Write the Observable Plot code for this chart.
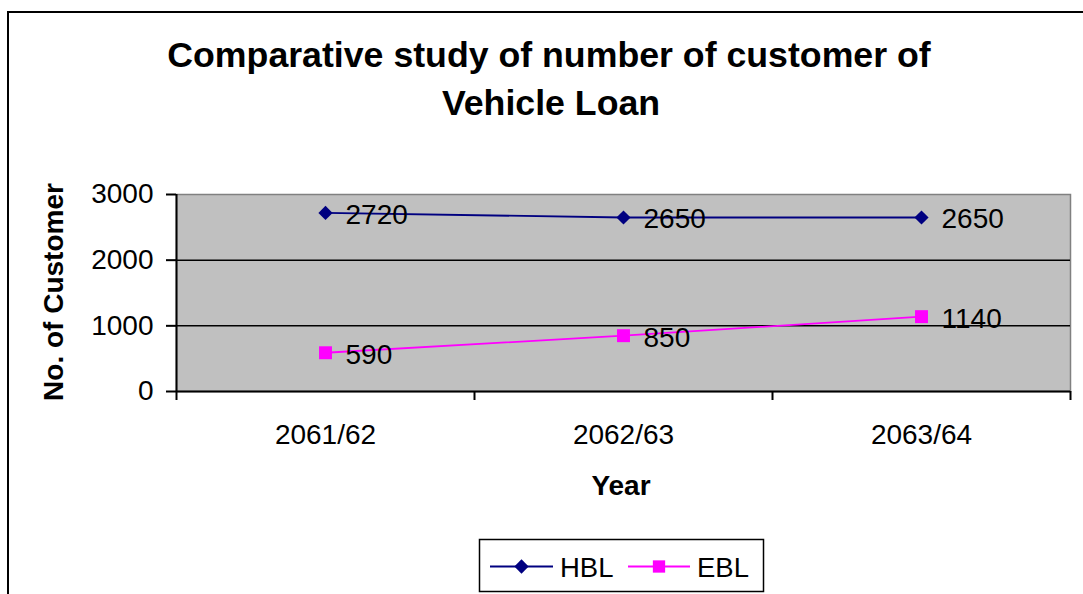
<!DOCTYPE html>
<html>
<head>
<meta charset="utf-8">
<script src="https://cdn.jsdelivr.net/npm/d3@7"></script>
<script src="https://cdn.jsdelivr.net/npm/@observablehq/plot@0.6"></script>
<style>
  html, body { margin: 0; padding: 0; background: #fff; }
  #wrap { position: relative; width: 1083px; height: 594px; overflow: hidden; font-family: "Liberation Sans", Arial, sans-serif; }
  #border { position: absolute; left: 7px; top: 11px; width: 3000px; height: 3000px; border-left: 2px solid #000; border-top: 2px solid #000; pointer-events: none; }
</style>
</head>
<body>
<div id="wrap"><div id="border"></div></div>
<script>
const years = ["2061/62", "2062/63", "2063/64"];
const hblValues = [2720, 2650, 2650];
const eblValues = [590, 850, 1140];
const yTicks = [0, 1000, 2000, 3000];
const gridValues = [1000, 2000];
const titleLines = ["Comparative study of number of customer of", "Vehicle Loan"];
const yLabel = "No. of Customer";
const xLabel = "Year";
const seriesNames = ["HBL", "EBL"];
const seriesColors = ["#000080", "#FF00FF"];
const seriesSymbols = ["diamond2", "square"];

const hbl = years.map((year, i) => ({pos: i + 0.5, year, value: hblValues[i]}));
const ebl = years.map((year, i) => ({pos: i + 0.5, year, value: eblValues[i]}));
const boundaries = d3.range(years.length + 1);
const centers = years.map((_, i) => i + 0.5);

const font = '"Liberation Sans", Arial, sans-serif';

const chart = Plot.plot({
  width: 1083,
  height: 594,
  marginLeft: 176,
  marginRight: 13,
  marginTop: 194,
  marginBottom: 203,
  style: {fontFamily: font, fontSize: "28px", background: "transparent", overflow: "visible"},
  x: {type: "linear", domain: [0, years.length]},
  y: {domain: [0, 3000]},
  marks: [
    Plot.frame({fill: "#C0C0C0", stroke: "#808080", strokeWidth: 1.5}),
    Plot.ruleY(gridValues, {stroke: "#000", strokeWidth: 1.5}),
    Plot.axisY({ticks: yTicks, tickSize: 10, tickPadding: 13, tickFormat: d => String(d), strokeWidth: 2, fontSize: 28, label: null, fill: "#000"}),
    Plot.axisX({ticks: boundaries, tickSize: 9, tickFormat: () => "", strokeWidth: 2, label: null}),
    Plot.axisX({ticks: centers, tickSize: 0, tickPadding: 33, tickFormat: d => years[Math.floor(d)], fontSize: 28, label: null, fill: "#000"}),
    Plot.ruleY([0], {stroke: "#000", strokeWidth: 2}),
    Plot.ruleX([0], {stroke: "#000", strokeWidth: 2}),
    Plot.line(hbl, {x: "pos", y: "value", stroke: seriesColors[0], strokeWidth: 1.8}),
    Plot.line(ebl, {x: "pos", y: "value", stroke: seriesColors[1], strokeWidth: 1.8}),
    Plot.dot(hbl, {x: "pos", y: "value", symbol: () => seriesSymbols[0], r: 6.4, fill: seriesColors[0], stroke: "none"}),
    Plot.dot(ebl, {x: "pos", y: "value", symbol: () => seriesSymbols[1], r: 7.3, fill: seriesColors[1], stroke: "none"}),
    Plot.text(hbl, {x: "pos", y: "value", text: d => String(d.value), dx: 20, dy: 2, textAnchor: "start", fontSize: 28, fill: "#000"}),
    Plot.text(ebl, {x: "pos", y: "value", text: d => String(d.value), dx: 20, dy: 2, textAnchor: "start", fontSize: 28, fill: "#000"})
  ]
});
chart.style.position = "absolute";
chart.style.left = "0px";
chart.style.top = "0px";
document.getElementById("wrap").appendChild(chart);

const svg = d3.select(chart);
// Title
const title = svg.append("text")
  .attr("text-anchor", "middle")
  .attr("font-family", font)
  .attr("font-weight", "bold")
  .attr("font-size", 35.7)
  .attr("fill", "#000");
title.append("tspan").attr("x", 549).attr("y", 67).text(titleLines[0]);
title.append("tspan").attr("x", 551).attr("y", 115).text(titleLines[1]);

// Axis titles
svg.append("text")
  .attr("transform", "translate(63,292) rotate(-90)")
  .attr("text-anchor", "middle")
  .attr("font-family", font).attr("font-weight", "bold").attr("font-size", 28)
  .attr("fill", "#000")
  .text(yLabel);
svg.append("text")
  .attr("x", 621).attr("y", 495)
  .attr("text-anchor", "middle")
  .attr("font-family", font).attr("font-weight", "bold").attr("font-size", 28)
  .attr("fill", "#000")
  .text(xLabel);

// Legend
const lg = svg.append("g");
lg.append("rect").attr("x", 479.5).attr("y", 539.5).attr("width", 284).attr("height", 52)
  .attr("fill", "#fff").attr("stroke", "#000").attr("stroke-width", 1.5);
const entries = [
  {x0: 490, x1: 553, tx: 560},
  {x0: 628, x1: 690, tx: 697}
];
const symbolTypes = [d3.symbolDiamond2, d3.symbolSquare];
const symbolSizes = [130, 151];
entries.forEach((e, i) => {
  lg.append("line").attr("x1", e.x0).attr("x2", e.x1).attr("y1", 566.5).attr("y2", 566.5)
    .attr("stroke", seriesColors[i]).attr("stroke-width", 1.8);
  lg.append("path").attr("d", d3.symbol(symbolTypes[i], symbolSizes[i])())
    .attr("transform", `translate(${(e.x0 + e.x1) / 2},566.5)`)
    .attr("fill", seriesColors[i]);
  lg.append("text").attr("x", e.tx).attr("y", 576.5)
    .attr("text-anchor", "start")
    .attr("font-family", font).attr("font-size", 27.5).attr("fill", "#000")
    .text(seriesNames[i]);
});
</script>
</body>
</html>
